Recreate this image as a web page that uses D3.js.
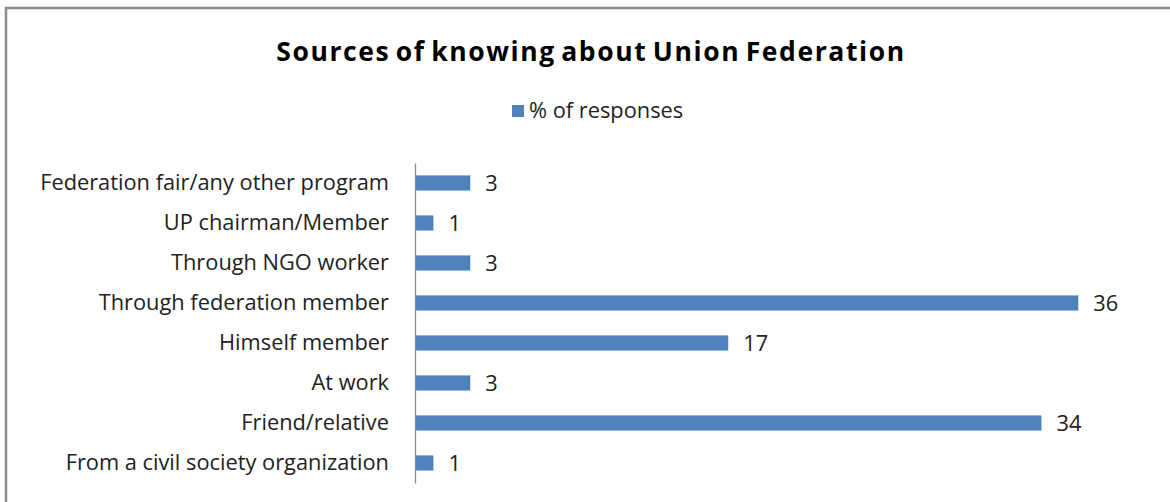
<!DOCTYPE html>
<html>
<head>
<meta charset="utf-8">
<script src="https://cdn.jsdelivr.net/npm/d3@7"></script>
<style>
  html, body { margin: 0; padding: 0; background: #fff; }
  svg { display: block; }
</style>
</head>
<body>
<svg id="chart" width="1170" height="502"></svg>
<script>
// Categories listed top to bottom as drawn
const categories = [
  "Federation fair/any other program",
  "UP chairman/Member",
  "Through NGO worker",
  "Through federation member",
  "Himself member",
  "At work",
  "Friend/relative",
  "From a civil society organization"
];
const responses = [3, 1, 3, 36, 17, 3, 34, 1];
const seriesName = "% of responses";
const titleText = "Sources of knowing about Union Federation";

const FONT = "'Open Sans', Lato, sans-serif";
const BAR = "#4F81BD";
const LABEL_SIZE = 21.8;

const svg = d3.select("#chart");

// outer chart frame
svg.append("rect")
  .attr("x", 6).attr("y", 8)
  .attr("width", 1180).attr("height", 520)
  .attr("fill", "#fff")
  .attr("stroke", "#8c8c8c")
  .attr("stroke-width", 2.5);

// title
svg.append("text")
  .attr("x", 591).attr("y", 61)
  .attr("text-anchor", "middle")
  .attr("font-family", FONT)
  .attr("font-weight", "bold")
  .attr("font-size", 26.5)
  .attr("letter-spacing", 1.6)
  .attr("word-spacing", -3)
  .attr("fill", "#000")
  .text(titleText);

// legend
svg.append("rect")
  .attr("x", 512).attr("y", 105)
  .attr("width", 12).attr("height", 12)
  .attr("fill", BAR);
svg.append("text")
  .attr("x", 529).attr("y", 118)
  .attr("font-family", FONT)
  .attr("font-size", LABEL_SIZE)
  .attr("fill", "#222")
  .text(seriesName);

// scales
const x = d3.scaleLinear().domain([0, 40]).range([415, 1152]);
const y = d3.scaleBand()
  .domain(categories)
  .range([163, 483])
  .paddingInner(0.62)
  .paddingOuter(0.31);

// category axis (line only, no ticks)
const yAxis = d3.axisLeft(y).tickSize(0).tickPadding(26);
const gy = svg.append("g")
  .attr("transform", `translate(${x(0)},0)`)
  .call(yAxis);
gy.select(".domain").attr("stroke", "#8c8c8c").attr("stroke-width", 1.3);
gy.selectAll("text")
  .attr("font-family", FONT)
  .attr("font-size", LABEL_SIZE)
  .attr("fill", "#222");

// bars
svg.append("g").selectAll("rect")
  .data(responses)
  .join("rect")
  .attr("x", x(0) + 1)
  .attr("y", (d, i) => y(categories[i]))
  .attr("width", d => x(d) - x(0) - 1)
  .attr("height", y.bandwidth())
  .attr("fill", BAR);

// value labels
svg.append("g").selectAll("text")
  .data(responses)
  .join("text")
  .attr("x", d => x(d) + 15)
  .attr("y", (d, i) => y(categories[i]) + y.bandwidth() / 2)
  .attr("dy", "0.36em")
  .attr("font-family", FONT)
  .attr("font-size", LABEL_SIZE)
  .attr("fill", "#222")
  .text(d => d);
</script>
</body>
</html>
